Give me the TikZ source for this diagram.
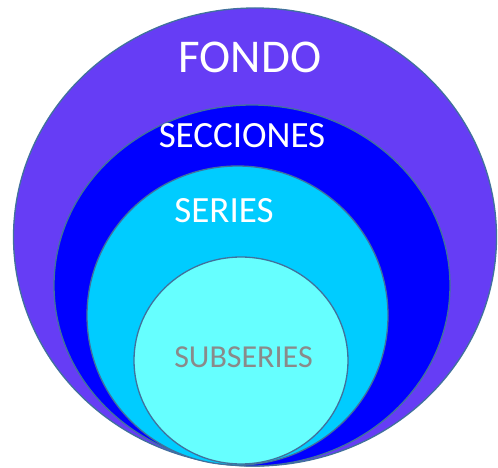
\documentclass[tikz,border=0pt]{standalone}
\usepackage{fontspec}
\setmainfont{Carlito}
\usetikzlibrary{shapes.geometric}
\definecolor{cFondo}{HTML}{663DF5}
\definecolor{cSecc}{HTML}{0000FF}
\definecolor{cSeries}{HTML}{00CCFF}
\definecolor{cSub}{HTML}{66FFFF}
\definecolor{cEdge}{HTML}{41719C}
\definecolor{cSubTxt}{HTML}{8A8A8A}
\tikzset{
  ring/.style={ellipse, draw=cEdge, line width=1.3pt, inner sep=0pt},
  lbl/.style={text=white, inner sep=0pt, anchor=center},
}
\begin{document}
\begin{tikzpicture}[x=1pt,y=-1pt]
\useasboundingbox (0,0) rectangle (498,468);
\node[ring, fill=cFondo, minimum width=483pt, minimum height=458pt] (fondo) at (255,237) {};
\node[ring, fill=cSecc, minimum width=396pt, minimum height=361pt] (secc) at (252,285.5) {};
\node[ring, fill=cSeries, minimum width=301pt, minimum height=299pt] (series) at (237.5,315.5) {};
\node[ring, fill=cSub, minimum width=214pt, minimum height=207pt] (sub) at (241,360.5) {};
\node[lbl, font=\fontsize{47}{50}\selectfont] (tFondo) at (250,57) {FONDO};
\node[lbl, font=\fontsize{37}{40}\selectfont] (tSecc) at (242,135.5) {SECCIONES};
\node[lbl, font=\fontsize{37}{40}\selectfont] (tSeries) at (224,210.5) {SERIES};
\node[lbl, text=cSubTxt, font=\fontsize{32}{34}\selectfont] (tSub) at (243.5,357) {SUBSERIES};
\end{tikzpicture}
\end{document}
